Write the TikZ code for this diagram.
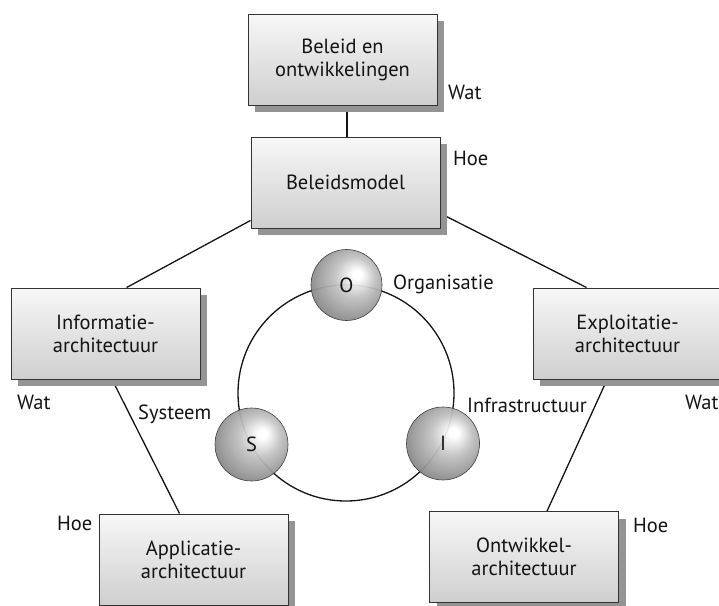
\documentclass[tikz,border=0pt]{standalone}
\usepackage{fontspec}
\setmainfont{PT Sans}
\usetikzlibrary{shadows,backgrounds}

% grey sphere with its highlight towards the upper right
\pgfdeclareradialshading{orb}{\pgfpoint{8bp}{8bp}}{%
  color(0bp)=(white); color(3bp)=(white); color(14bp)=(black!24);
  color(25bp)=(black!40); color(36bp)=(black!57); color(50bp)=(black!64)}

\newcommand\diagfont{\fontsize{20.5}{23}\selectfont}

\tikzset{
  archbox/.style={draw=black!80, line width=0.9pt,
    top color=black!3, bottom color=black!19,
    minimum width=189pt, minimum height=91pt, inner sep=0pt,
    align=center, font=\diagfont, text=black!92,
    drop shadow={shadow xshift=7pt, shadow yshift=-7pt, fill=black!42, opacity=1}},
  orbnode/.style={circle, draw=black!75, line width=0.6pt, shading=orb,
    fill opacity=0.94, text opacity=1, minimum size=73pt, inner sep=0pt,
    font=\diagfont, text=black!92},
  tag/.style={inner sep=0pt, font=\diagfont, text=black!92, anchor=base west},
  link/.style={line width=1.3pt, black!92},
}

\begin{document}
\begin{tikzpicture}[x=1pt, y=-1pt]
\useasboundingbox (0,0) rectangle (719,605);

% boxes
\node[archbox] (b1) at (342.5,59.5)  {Beleid en\\ontwikkelingen};
\node[archbox] (b2) at (345.5,182.5) {Beleidsmodel};
\node[archbox] (b3) at (105.5,333.5) {Informatie-\\architectuur};
\node[archbox] (b4) at (627.5,333.5) {Exploitatie-\\architectuur};
\node[archbox] (b5) at (193.5,559.5) {Applicatie-\\architectuur};
\node[archbox] (b6) at (524,557)     {Ontwikkel-\\architectuur};

% connectors, kept behind the boxes and their shadows
\begin{scope}[on background layer]
  \draw[link] ([xshift=4.5pt]b1.south) -- ([xshift=1.5pt]b2.north);
  \draw[link] ([yshift=8pt]b2.south west) -- ([xshift=116pt]b3.north west);
  \draw[link] ([yshift=15pt]b2.south east) -- ([xshift=54pt]b4.north west);
  \draw[link] ([xshift=101.5pt]b3.south west) -- ([xshift=81pt]b5.north west);
  \draw[link] ([xshift=74.6pt]b4.south west) -- ([xshift=118pt]b6.north west);
\end{scope}

% ring with the three spheres
\node[circle, draw=black!92, line width=1.3pt, minimum size=216pt, inner sep=0pt] (ring) at (346,393) {};
\node[orbnode, minimum size=71pt] (o) at (346.5,285) {O};
\node[orbnode] (s) at (251.5,444.5) {S};
\node[orbnode] (i) at (443,443.5) {I};

% labels
\node[tag] (wat1) at (448,99)  {Wat};
\node[tag] (hoe2) at (453,165) {Hoe};
\node[tag] (wat3) at (17,409)  {Wat};
\node[tag] (wat4) at (685,409) {Wat};
\node[tag] (hoe5) at (57,530)  {Hoe};
\node[tag] (hoe6) at (633,532) {Hoe};
\node[tag] (org)  at (393,289) {Organisatie};
\node[tag] (sys)  at (138,419) {Systeem};
\node[tag] (infra) at (467,412) {Infrastructuur};
\end{tikzpicture}
\end{document}
